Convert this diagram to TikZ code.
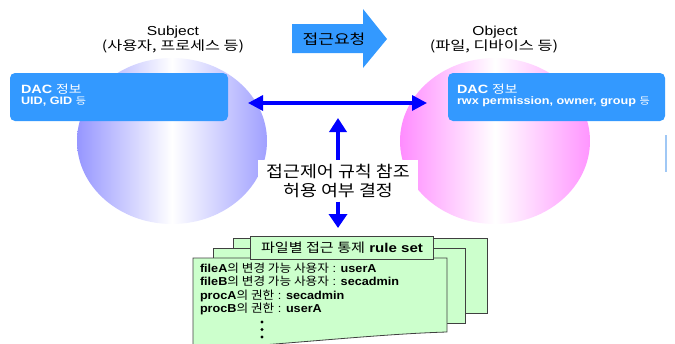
\documentclass[tikz,border=0pt]{standalone}
\usepackage{fontspec}
\usepackage{graphicx}
\setmainfont{Liberation Sans}
\newfontfamily\krfont{Noto Sans CJK KR}
\usetikzlibrary{arrows.meta}

\definecolor{boxblue}{RGB}{51,153,255}
\definecolor{subjpurple}{RGB}{150,150,255}
\definecolor{objpink}{RGB}{255,140,255}
\definecolor{pagegreen}{RGB}{204,255,204}
\definecolor{flowblue}{RGB}{0,0,255}
\definecolor{edgeblue}{RGB}{160,200,245}

% Korean run in the regular weight
\newcommand\hg[1]{{\krfont\mdseries #1}}
% Korean run at a given size
\newcommand\hgsz[2]{{\fontsize{#1}{#1}\krfont\mdseries #2}}
% horizontal widening of a text line
\newcommand\sx[2]{\scalebox{#1}[1]{#2}}

\begin{document}
\begin{tikzpicture}[x=1pt,y=-1pt,
  every node/.style={inner sep=0pt,outer sep=0pt},
  headline/.style={font=\fontsize{13}{15}\selectfont},
  subline/.style={font=\fontsize{13}{15}\krfont},
  dacbox/.style={fill=boxblue,rounded corners=5pt,minimum width=218pt,minimum height=48pt,anchor=north west},
  dactitle/.style={anchor=base west,text=white,text height=8pt,text depth=0.5pt,
                   font=\fontsize{12}{12}\selectfont\bfseries},
  dacline/.style={anchor=base west,text=white,text height=7pt,text depth=1pt,
                  font=\fontsize{10.8}{11}\selectfont\bfseries},
  pagesheet/.style={fill=pagegreen,draw=black!75,line width=0.8pt},
  ruletext/.style={anchor=base west,font=\fontsize{11.5}{13}\selectfont},
  flowline/.style={draw=flowblue,line width=3.3pt},
]
\path[use as bounding box] (0,0) rectangle (675,343);

% subject and object spheres
\shade[left color=subjpurple,right color=subjpurple!90!white,middle color=white]
  (172,141) ellipse [x radius=95pt,y radius=83pt];
\shade[left color=objpink,right color=objpink!92!white,middle color=white]
  (495,141) ellipse [x radius=95pt,y radius=83pt];

% labels above the spheres
\node[headline,anchor=base] (subjname) at (173,35) {\sx{1.2}{Subject}};
\node[subline,anchor=base] (subjkind) at (173,50.5) {\sx{1.25}{(사용자, 프로세스 등)}};
\node[headline,anchor=base] (objname) at (495,35) {\sx{1.2}{Object}};
\node[subline,anchor=base] (objkind) at (494,50.5) {\sx{1.26}{(파일, 디바이스 등)}};

% access request block arrow
\fill[boxblue] (292,24) -- (363,24) -- (363,9) -- (387,39) -- (363,68) -- (363,53) -- (292,53) -- cycle;
\node[font=\fontsize{14}{16}\krfont] (request) at (334,39.5) {\sx{1.22}{접근요청}};

% DAC information boxes
\node[dacbox] (subjdac) at (10,73) {};
\node[dactitle] (subjdact) at (21,93.8) {\sx{1.2}{DAC \hgsz{11.5}{정보}}};
\node[dacline] (subjdacl) at (21,104) {\sx{1.17}{UID, GID \hgsz{9.5}{등}}};
\node[dacbox,minimum width=217pt] (objdac) at (448,73) {};
\node[dactitle] (objdact) at (457,93.8) {\sx{1.2}{DAC \hgsz{11.5}{정보}}};
\node[dacline] (objdacl) at (457,104.3) {\sx{1.17}{rwx permission, owner, group \hgsz{9.5}{등}}};

% decision text in the middle
\node[fill=white,minimum width=160pt,minimum height=42pt,align=center,
      font=\fontsize{16}{19}\krfont] (decide) at (338,180.5)
  {\sx{1.15}{접근제어 규칙 참조}\\\sx{1.15}{허용 여부 결정}};

% connectors
\coordinate (subjend) at (248,103);
\coordinate (objend) at (427,103);
\coordinate (uptip) at (338,118);
\coordinate (downtip) at (338,228);
\draw[flowline,{Triangle[length=15pt,width=15pt]}-{Triangle[length=15pt,width=15pt]}] (subjend) -- (objend);
\draw[draw=flowblue,line width=4pt,-{Triangle[length=14pt,width=17pt]}] (decide.north) -- (uptip);
\draw[draw=flowblue,line width=4pt,-{Triangle[length=14pt,width=18pt]}] (decide.south) -- (downtip);

% stacked rule set sheets
\draw[pagesheet] (233,238) rectangle (487,313);
\draw[pagesheet] (213,248) rectangle (465,323);
\draw[pagesheet] (193,258) -- (447,258) -- (447,332)
  .. controls (380,334) and (300,343) .. (193,350) -- cycle;
\node[pagesheet,minimum width=183pt,minimum height=23pt,anchor=north west] (ruletab) at (250,236) {};
\node[anchor=base,font=\fontsize{12.8}{14}\selectfont] (ruletitle) at (342,252)
  {\sx{1.18}{\hg{파일별 접근 통제} \textbf{rule set}}};

\node[ruletext] (rule1) at (200,272) {\sx{1.1}{\textbf{fileA}\hg{의 변경 가능 사용자} : \textbf{userA}}};
\node[ruletext] (rule2) at (200,285.5) {\sx{1.1}{\textbf{fileB}\hg{의 변경 가능 사용자} : \textbf{secadmin}}};
\node[ruletext] (rule3) at (200,299) {\sx{1.1}{\textbf{procA}\hg{의 권한} : \textbf{secadmin}}};
\node[ruletext] (rule4) at (200,312.5) {\sx{1.1}{\textbf{procB}\hg{의 권한} : \textbf{userA}}};
\fill (262,322) circle [radius=1.6pt];
\fill (262,329.5) circle [radius=1.6pt];
\fill (262,337) circle [radius=1.6pt];

% thin edge mark at the right
\draw[edgeblue,line width=1.2pt] (666,135) -- (666,172);
\end{tikzpicture}
\end{document}
